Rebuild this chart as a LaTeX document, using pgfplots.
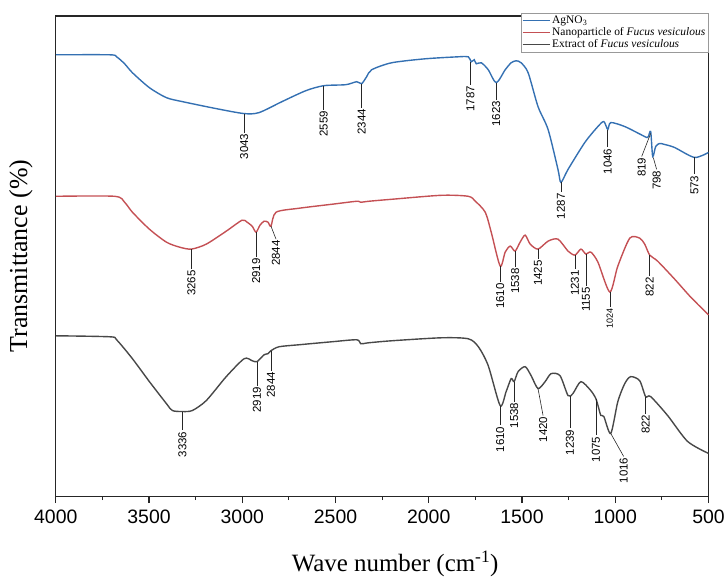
\documentclass[border=0pt]{standalone}
\usepackage{pgfplots}
\pgfplotsset{compat=1.18}
\usepackage{fontspec}
\setmainfont{Liberation Serif}
\newfontfamily\arial{Liberation Sans}

\definecolor{agblue}{RGB}{52,112,178}
\definecolor{npred}{RGB}{196,80,84}
\definecolor{exgray}{RGB}{72,72,72}

% peak label: wavenumber, curve level, end of line, text
\newcommand{\pk}[4]{%
  \draw[lbl] (axis cs:#1,#2) -- (axis cs:#1,#3)
    node[rotate=90, anchor=east, inner sep=1pt, font=\arial\fontsize{11.5}{11.5}\selectfont] {#4};}
% slanted peak label: from (w1,y1) to (w2,y2)
\newcommand{\pks}[5]{%
  \draw[lbl] (axis cs:#1,#2) -- (axis cs:#3,#4)
    node[rotate=90, anchor=east, inner sep=1pt, font=\arial\fontsize{11.5}{11.5}\selectfont] {#5};}

\begin{document}
\begin{tikzpicture}
\tikzset{lbl/.style={draw=black!85, line width=0.6pt}}
\begin{axis}[
    scale only axis,
    width=655pt, height=482pt,
    x dir=reverse,
    xmin=500, xmax=4000,
    ymin=0, ymax=482,
    xtick={500,1000,...,4000},
    minor x tick num=1,
    ytick=\empty,
    tick align=outside,
    major tick length=7pt,
    minor tick length=4pt,
    xtick pos=bottom,
    axis line style={line width=1.3pt, black!85},
    every tick/.style={line width=1.1pt, black!85},
    /pgf/number format/1000 sep={},
    /pgf/number format/assume math mode=true,
    xticklabel style={font=\arial\fontsize{19.5}{20}\selectfont, yshift=-3pt},
    xlabel={Wave number (cm\textsuperscript{-1})},
    xlabel style={font=\fontsize{25}{26}\selectfont, at={(axis description cs:0.52,-0.14)}, anchor=center},
    ylabel={Transmittance (\%)},
    ylabel style={font=\fontsize{26}{27}\selectfont, at={(axis description cs:-0.03,0.5)}, anchor=south},
    clip=false,
    legend style={at={(rel axis cs:1,1)}, anchor=north east, yshift=3pt,
        draw=gray!80, fill=white, font=\fontsize{11.5}{13}\selectfont,
        inner sep=1pt, row sep=-1.5pt, cells={anchor=west}},
    legend image code/.code={\draw[#1, line width=1.2pt] (0pt,0pt) -- (27pt,0pt);},
    every axis plot/.append style={smooth, tension=0.45},
]

% AgNO3
\addplot[agblue, line width=1.4pt] coordinates {
(4000,443) (3711,443) (3674,441) (3631,434) (3589,425) (3498,410) (3407,400)
(3321,396) (3140,389) (2990,384) (2910,385) (2787,396) (2659,407) (2563,412)
(2445,413) (2386,416) (2360,414) (2333,421) (2306,428) (2199,435) (2018,439)
(1841,441) (1788,441) (1772,436) (1756,438) (1745,434) (1718,435) (1681,428)
(1638,415) (1590,428) (1558,435) (1531,437) (1505,435) (1467,425) (1414,391)
(1360,368) (1307,328) (1291,315) (1253,328) (1163,355) (1093,371) (1061,376)
(1040,368) (1024,375) (949,371) (863,363) (826,360) (810,366) (799,341)
(783,351) (762,354) (735,353) (682,350) (575,340) (500,345)
};
\addlegendentry{AgNO\textsubscript{3}}

% nanoparticle
\addplot[npred, line width=1.4pt] coordinates {
(4000,301) (3685,301) (3631,295) (3589,285) (3498,268) (3407,255) (3337,250)
(3273,248) (3193,253) (3086,266) (3001,277) (2974,275) (2947,271) (2926,265)
(2905,272) (2883,276) (2862,275) (2846,271) (2819,285) (2696,289) (2520,293)
(2386,296) (2365,295) (2322,296) (2199,298) (1932,302) (1788,301) (1750,296)
(1697,285) (1665,265) (1617,231) (1590,245) (1563,251) (1537,246) (1510,255)
(1483,262) (1456,253) (1414,248) (1360,256) (1307,258) (1253,246) (1216,242)
(1184,248) (1157,243) (1131,245) (1093,235) (1029,205) (986,231) (922,259)
(869,259) (842,253) (815,242) (773,236) (682,218) (596,200) (500,182)
};
\addlegendentry{Nanoparticle of \textit{Fucus vesiculous}}

% extract
\addplot[exgray, line width=1.4pt] coordinates {
(4000,161) (3711,160) (3674,157) (3589,138) (3498,115) (3407,93) (3375,86)
(3321,85) (3268,86) (3193,96) (3086,120) (2990,138) (2947,136) (2921,135)
(2883,142) (2862,143) (2846,146) (2803,150) (2696,152) (2520,155) (2386,157)
(2365,153) (2322,154) (2199,156) (1932,159) (1788,158) (1734,150) (1681,131)
(1617,91) (1585,105) (1558,118) (1542,115) (1521,125) (1483,130) (1451,121)
(1414,108) (1376,115) (1344,123) (1296,121) (1253,101) (1227,103) (1184,115)
(1131,106) (1104,98) (1088,88) (1077,81) (1061,80) (1024,63) (986,95)
(949,113) (917,120) (869,116) (837,100) (810,100) (719,81) (612,55) (500,43)
};
\addlegendentry{Extract of \textit{Fucus vesiculous}}

% peak labels, AgNO3
\pk{2990}{384}{365}{3043}
\pk{2563}{412}{388}{2559}
\pk{2360}{414}{390}{2344}
\pk{1777}{436}{413}{1787}
\pk{1638}{415}{398}{1623}
\pk{1291}{315}{305}{1287}
\pk{1040}{368}{350}{1046}
\pks{810}{364}{858}{341}{819}
\pks{796}{340}{778}{328}{798}
\pk{575}{340}{323}{573}

% peak labels, nanoparticle
\pk{3273}{248}{228}{3265}
\pk{2926}{265}{240}{2919}
\pks{2846}{271}{2819}{258}{2844}
\pk{1617}{231}{215}{1610}
\pk{1537}{246}{230}{1538}
\pk{1414}{248}{238}{1425}
\pk{1216}{242}{228}{1231}
\pk{1157}{243}{211}{1155}
\draw[lbl] (axis cs:1029,205) -- (axis cs:1029,190)
  node[rotate=90, anchor=east, inner sep=1pt, font=\arial\fontsize{9}{9}\selectfont] {1024};
\pk{815}{242}{221}{822}

% peak labels, extract
\pk{3321}{85}{66}{3336}
\pk{2921}{135}{111}{2919}
\pk{2846}{146}{126}{2844}
\pk{1617}{91}{71}{1610}
\pk{1542}{115}{95}{1538}
\pks{1414}{108}{1387}{81}{1420}
\pk{1243}{101}{68}{1239}
\pk{1104}{98}{61}{1075}
\pks{1024}{63}{955}{40}{1016}
\pk{837}{100}{83}{822}

% page frame like the reference margins
\path (rel axis cs:0,0) ++(-56pt,-87pt) (rel axis cs:1,1) ++(17pt,16pt);
\end{axis}
\end{tikzpicture}
\end{document}
